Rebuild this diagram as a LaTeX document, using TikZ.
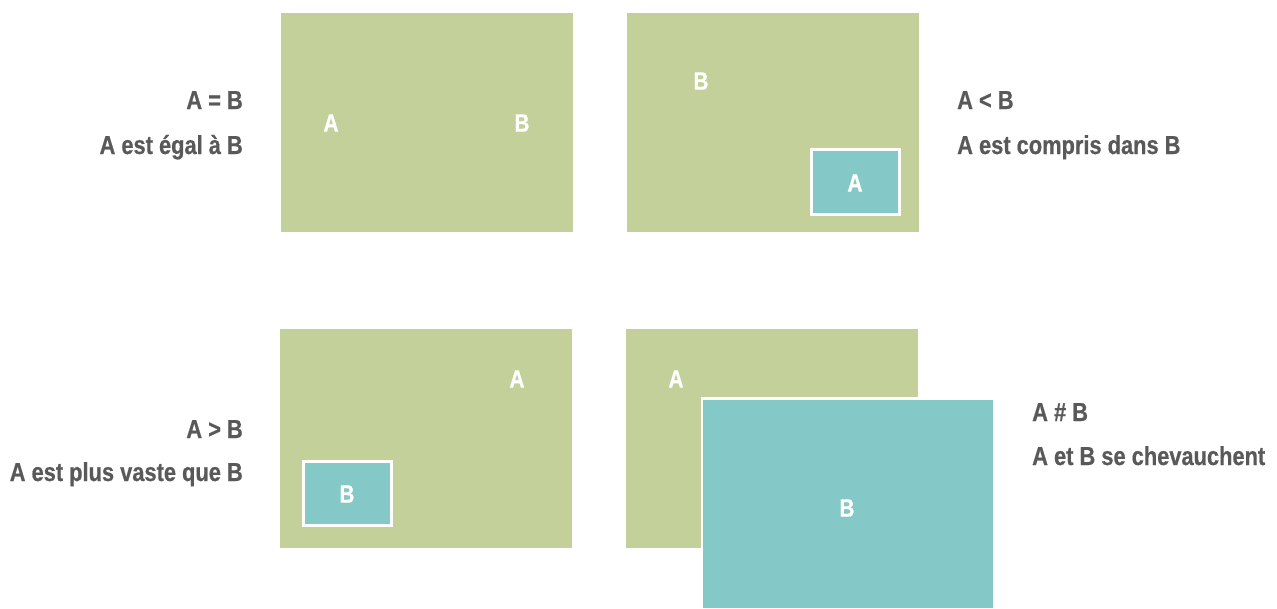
\documentclass[tikz,border=0pt]{standalone}
\usepackage{fontspec}
\setmainfont{Liberation Sans}[FakeStretch=0.84]
\newfontfamily\boldish{Liberation Sans Bold}[FakeStretch=0.84,FakeBold=0.6]
\definecolor{grn}{HTML}{C3D09A}
\definecolor{tealc}{HTML}{84C9C8}
\definecolor{txt}{HTML}{595959}
\begin{document}
\begin{tikzpicture}[x=1pt,y=-1pt,
  smallbox/.style={fill=tealc,draw=white,line width=2.7pt},
  inlbl/.style={text=white,font=\fontsize{25}{25}\boldish,inner sep=0pt},
  captxt/.style={text=txt,font=\fontsize{26}{26}\boldish,inner sep=0pt}]
\useasboundingbox (0,0) rectangle (1277,608);
% top left
\fill[grn] (281,13) rectangle (573,232);
\node[inlbl] (tlA) at (331,123) {A};
\node[inlbl] (tlB) at (522,123) {B};
\node[captxt,anchor=base east] (eq1) at (243,109) {A = B};
\node[captxt,anchor=base east] (eq2) at (243,154) {A est égal à B};
% top right
\fill[grn] (627,13) rectangle (919,232);
\node[inlbl] (trB) at (701,81) {B};
\draw[smallbox] (811.3,149.3) rectangle (899.3,214.3);
\node[inlbl] (trA) at (855,183) {A};
\node[captxt,anchor=base west] (lt1) at (957,109) {A < B};
\node[captxt,anchor=base west] (lt2) at (957,154) {A est compris dans B};
% bottom left
\fill[grn] (280,329) rectangle (572,548);
\node[inlbl] (blA) at (517,379) {A};
\draw[smallbox] (303.3,461.3) rectangle (391.3,525.3);
\node[inlbl] (blB) at (347,494) {B};
\node[captxt,anchor=base east] (gt1) at (243,438) {A > B};
\node[captxt,anchor=base east] (gt2) at (243,481) {A est plus vaste que B};
% bottom right
\fill[grn] (626,329) rectangle (918,548);
\node[inlbl] (brA) at (676,379) {A};
\fill[white] (700.5,396.5) rectangle (993,608);
\fill[tealc] (703,399.5) rectangle (993,608);
\node[inlbl] (brB) at (847,508) {B};
\node[captxt,anchor=base west] (ov1) at (1032,421) {A \# B};
\node[captxt,anchor=base west] (ov2) at (1032,465) {A et B se chevauchent};
\end{tikzpicture}
\end{document}
